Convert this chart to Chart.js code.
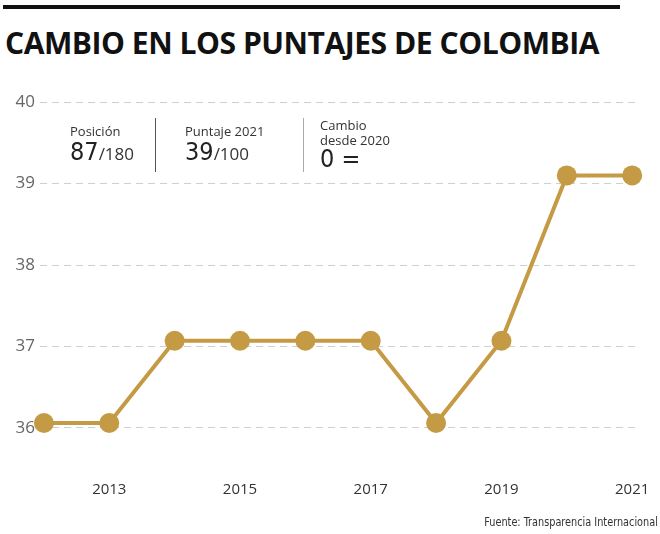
<!DOCTYPE html>
<html>
<head>
<meta charset="utf-8">
<script src="https://cdn.jsdelivr.net/npm/chart.js@4.4.1/dist/chart.umd.min.js"></script>
<style>
  html,body{margin:0;padding:0;background:#fff;}
  #wrap{position:relative;width:660px;height:534px;overflow:hidden;font-family:"Open Sans",sans-serif;}
  #bar{position:absolute;left:3px;top:5px;width:617px;height:4px;background:#111;}
  #title{position:absolute;left:5px;top:22px;font-family:"Open Sans",sans-serif;font-weight:bold;font-size:31px;line-height:40px;color:#111;white-space:nowrap;transform-origin:0 0;letter-spacing:-0.5px;}
  #chart{position:absolute;left:0;top:0;}
  .info{position:absolute;color:#333;font-size:13px;line-height:15px;white-space:nowrap;}
  .big{font-family:"DejaVu Sans Condensed",sans-serif;font-size:25px;color:#222;}
  .small{font-size:17px;color:#333;}
  .sep{position:absolute;width:1px;background:#555;}
  #src{position:absolute;right:2px;top:515px;font-family:"DejaVu Sans Condensed",sans-serif;font-size:12px;color:#333;white-space:nowrap;transform-origin:100% 0;transform:scaleX(0.9);}
</style>
</head>
<body>
<div id="wrap">
  <div id="bar"></div>
  <div id="title">CAMBIO EN LOS PUNTAJES DE COLOMBIA</div>
  <canvas id="chart" width="660" height="534"></canvas>
  <div class="info" style="left:70px;top:124px;">Posición</div>
  <div class="info" style="left:70px;top:144px;"><span class="big">87</span><span class="small">/180</span></div>
  <div class="sep" style="left:155px;top:118px;height:54px;"></div>
  <div class="info" style="left:185px;top:124px;">Puntaje 2021</div>
  <div class="info" style="left:185px;top:144px;"><span class="big">39</span><span class="small">/100</span></div>
  <div class="sep" style="left:303px;top:118px;height:54px;background:#aaa;"></div>
  <div class="info" style="left:320px;top:118px;">Cambio<br>desde 2020</div>
  <div class="info" style="left:320px;top:151px;"><span class="big">0 =</span></div>
  <div id="src">Fuente: Transparencia Internacional</div>
</div>
<script>
// datos
const years=[2012,2013,2014,2015,2016,2017,2018,2019,2020,2021];
const scores=[36.06,36.06,37.07,37.07,37.07,37.07,36.06,37.07,39.1,39.1];
const yTicks=[36,37,38,39,40];
const xTicks=[2013,2015,2017,2019,2021];

const gold='#c59a45';

// ajustar el titulo al ancho del original
const title=document.getElementById('title');
title.style.transform='scaleX('+(594/title.offsetWidth)+')';

const points=years.map((y,i)=>({x:y,y:scores[i]}));

new Chart(document.getElementById('chart'),{
    type:'line',
    data:{
        datasets:[{
            data:points,
            borderColor:gold,
            backgroundColor:gold,
            borderWidth:4,
            pointRadius:10,
            pointHoverRadius:10,
            pointBorderWidth:0,
            pointBackgroundColor:gold,
            tension:0,
            clip:false
        }]
    },
    options:{
        responsive:false,
        animation:false,
        layout:{padding:{top:94,right:20,bottom:0,left:0}},
        plugins:{legend:{display:false},tooltip:{enabled:false}},
        scales:{
            x:{
                type:'linear',
                min:2011.94,
                max:2021.12,
                afterBuildTicks:function(scale){
                    scale.ticks=xTicks.map(v=>({value:v}));
                },
                afterFit:function(scale){
                    scale.height=98;
                    scale.paddingLeft=0;
                    scale.paddingRight=0;
                },
                grid:{display:false},
                border:{display:false},
                ticks:{
                    padding:37,
                    color:'#333',
                    font:{family:'Open Sans',size:15},
                    callback:function(v){return String(v);}
                }
            },
            y:{
                min:35.9,
                max:40.1,
                afterBuildTicks:function(scale){
                    scale.ticks=yTicks.map(v=>({value:v}));
                },
                afterFit:function(scale){
                    scale.width=40;
                    scale.paddingTop=0;
                    scale.paddingBottom=0;
                },
                grid:{color:'#cfcfcf',lineWidth:1,drawTicks:false},
                border:{display:false,dash:[7,5]},
                ticks:{
                    padding:5,
                    color:'#666',
                    font:{family:'Open Sans',size:17}
                }
            }
        }
    }
});
</script>
</body>
</html>
